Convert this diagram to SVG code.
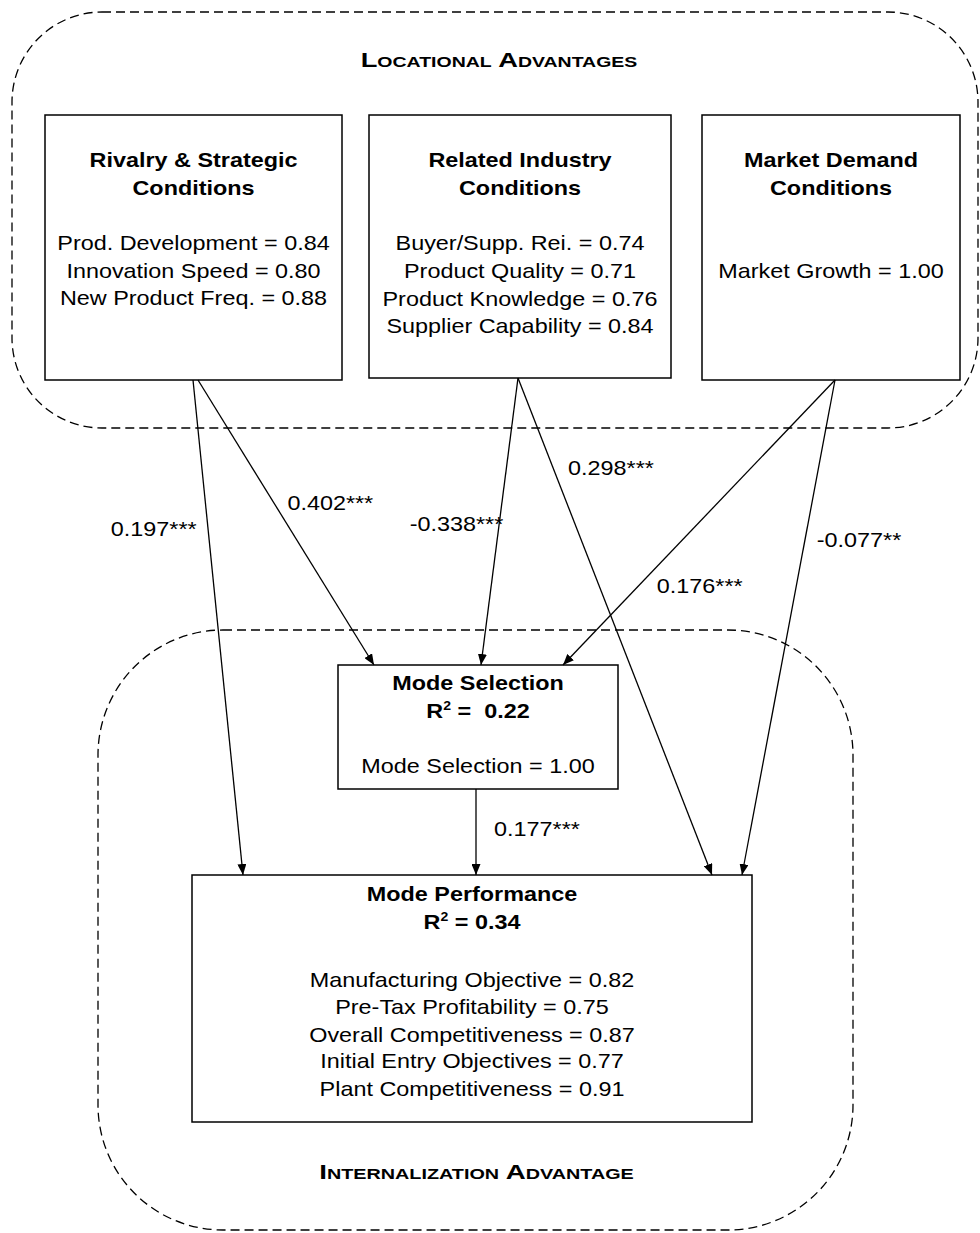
<svg xmlns="http://www.w3.org/2000/svg" width="980" height="1233" viewBox="0 0 980 1233">
<style>
text{font-family:"Liberation Sans",Arial,sans-serif;fill:#000;text-anchor:middle}
.b{font-weight:bold;font-size:20px}
.r{font-size:20px}
.h{font-weight:bold}
.box{fill:#fff;stroke:#000;stroke-width:1.5}
.region{fill:none;stroke:#000;stroke-width:1.3;stroke-dasharray:9 5}
.conn line{stroke:#000;stroke-width:1.3;marker-end:url(#arr)}
</style>
<defs>
<marker id="arr" markerUnits="userSpaceOnUse" markerWidth="11" markerHeight="9" refX="11" refY="4.5" orient="auto">
<path d="M0,0 L11,4.5 L0,9 z" fill="#000"/>
</marker>
</defs>
<rect width="980" height="1233" fill="#fff"/>

<g id="locational-region">
<rect class="region" x="12" y="12" width="966" height="416" rx="90" ry="90"/>
<g transform="translate(499 0) scale(1.3 1)"><text class="h" x="0" y="67"><tspan font-size="21">L</tspan><tspan font-size="15">OCATIONAL</tspan><tspan font-size="21"> A</tspan><tspan font-size="15">DVANTAGES</tspan></text></g>
</g>

<g id="internalization-region">
<rect class="region" x="98" y="630" width="755" height="600" rx="125" ry="125"/>
<g transform="translate(476.5 0) scale(1.32 1)"><text class="h" x="0" y="1179"><tspan font-size="21">I</tspan><tspan font-size="15">NTERNALIZATION</tspan><tspan font-size="21"> A</tspan><tspan font-size="15">DVANTAGE</tspan></text></g>
</g>

<g id="rivalry">
<rect class="box" x="45" y="115" width="297" height="265"/>
<g transform="translate(193.5 0) scale(1.17 1)">
<text class="b" x="0" y="167">Rivalry &amp; Strategic</text>
<text class="b" x="0" y="195">Conditions</text>
<text class="r" x="0" y="250">Prod. Development = 0.84</text>
<text class="r" x="0" y="278">Innovation Speed = 0.80</text>
<text class="r" x="0" y="305">New Product Freq. = 0.88</text>
</g>
</g>

<g id="related">
<rect class="box" x="369" y="115" width="302" height="263"/>
<g transform="translate(520 0) scale(1.17 1)">
<text class="b" x="0" y="167">Related Industry</text>
<text class="b" x="0" y="195">Conditions</text>
<text class="r" x="0" y="250">Buyer/Supp. Rei. = 0.74</text>
<text class="r" x="0" y="278">Product Quality = 0.71</text>
<text class="r" x="0" y="306">Product Knowledge = 0.76</text>
<text class="r" x="0" y="333">Supplier Capability = 0.84</text>
</g>
</g>

<g id="market">
<rect class="box" x="702" y="115" width="258" height="265"/>
<g transform="translate(831 0) scale(1.17 1)">
<text class="b" x="0" y="167">Market Demand</text>
<text class="b" x="0" y="195">Conditions</text>
<text class="r" x="0" y="278">Market Growth = 1.00</text>
</g>
</g>

<g id="mode-selection">
<rect class="box" x="338" y="665" width="280" height="124"/>
<g transform="translate(478 0) scale(1.17 1)">
<text class="b" x="0" y="690">Mode Selection</text>
<text class="b" x="0" y="718" xml:space="preserve">R<tspan font-size="12" dy="-8">2</tspan><tspan dy="8"> =  0.22</tspan></text>
<text class="r" x="0" y="773">Mode Selection = 1.00</text>
</g>
</g>

<g id="mode-performance">
<rect class="box" x="192" y="875" width="560" height="247"/>
<g transform="translate(472 0) scale(1.17 1)">
<text class="b" x="0" y="901">Mode Performance</text>
<text class="b" x="0" y="929">R<tspan font-size="12" dy="-8">2</tspan><tspan dy="8"> = 0.34</tspan></text>
<text class="r" x="0" y="987">Manufacturing Objective = 0.82</text>
<text class="r" x="0" y="1014">Pre-Tax Profitability = 0.75</text>
<text class="r" x="0" y="1042">Overall Competitiveness = 0.87</text>
<text class="r" x="0" y="1068">Initial Entry Objectives = 0.77</text>
<text class="r" x="0" y="1096">Plant Competitiveness = 0.91</text>
</g>
</g>

<g id="connectors" class="conn">
<line x1="193" y1="380" x2="243" y2="875"/>
<line x1="198" y1="380" x2="374" y2="665"/>
<line x1="518" y1="378" x2="481" y2="665"/>
<line x1="518" y1="378" x2="712" y2="875"/>
<line x1="835" y1="380" x2="563" y2="665"/>
<line x1="835" y1="380" x2="742" y2="875"/>
<line x1="476" y1="789" x2="476" y2="875"/>
</g>

<g id="connector-labels">
<g transform="translate(153.7 0) scale(1.17 1)"><text class="r" x="0" y="536">0.197***</text></g>
<g transform="translate(330.3 0) scale(1.17 1)"><text class="r" x="0" y="510">0.402***</text></g>
<g transform="translate(456.5 0) scale(1.17 1)"><text class="r" x="0" y="531">-0.338***</text></g>
<g transform="translate(611 0) scale(1.17 1)"><text class="r" x="0" y="475">0.298***</text></g>
<g transform="translate(699.7 0) scale(1.17 1)"><text class="r" x="0" y="593">0.176***</text></g>
<g transform="translate(859 0) scale(1.17 1)"><text class="r" x="0" y="547">-0.077**</text></g>
<g transform="translate(537 0) scale(1.17 1)"><text class="r" x="0" y="836">0.177***</text></g>
</g>
</svg>
